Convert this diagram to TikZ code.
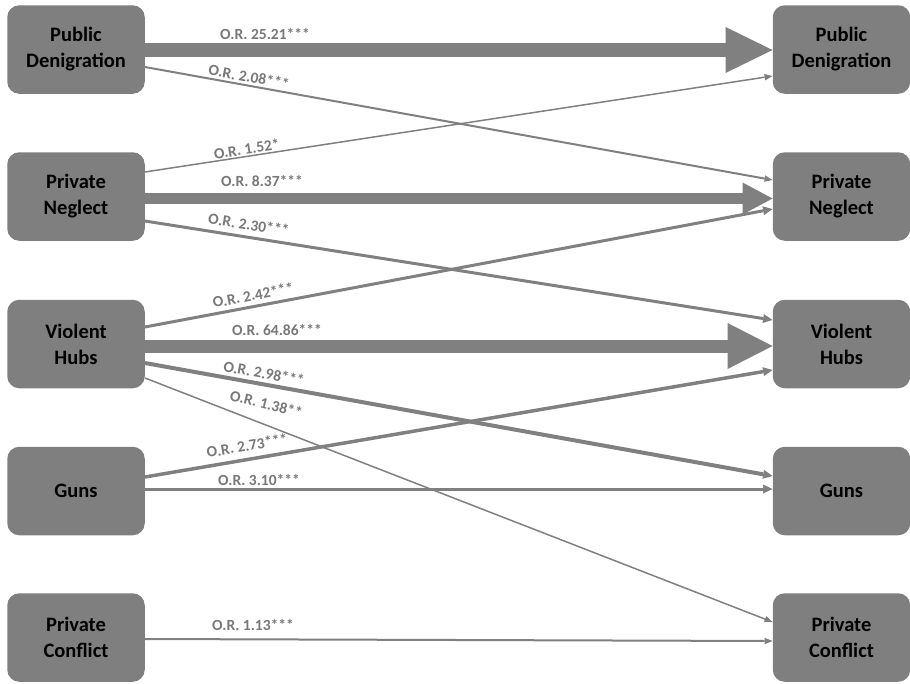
\documentclass[tikz,border=0pt]{standalone}
\usepackage{fontspec}
\setmainfont{Carlito}
\usetikzlibrary{arrows.meta,calc}
\definecolor{boxgray}{RGB}{127,127,127}
\definecolor{linkgray}{RGB}{128,128,128}
\definecolor{labelgray}{RGB}{120,120,120}

\begin{document}
\begin{tikzpicture}[x=1pt,y=-1pt,
  factor/.style={fill=boxgray, rounded corners=12pt, minimum width=137.5pt,
    minimum height=88.5pt, inner sep=0pt, align=center, text=black,
    font=\bfseries\fontsize{20.5}{26}\selectfont},
  link/.style={draw=linkgray, line width=#1},
  smalltip/.style={-{Triangle[length=8pt,width=6.5pt,line width=0pt]}},
  midtip/.style={-{Triangle[length=9.5pt,width=9pt,line width=0pt]}},
  ortext/.style={text=labelgray, inner sep=0pt, anchor=base,
    font=\bfseries\fontsize{15.5}{18}\selectfont}]
\useasboundingbox (0,0) rectangle (910,683);

% factor boxes, left column (origin) and right column (destination)
\node[factor] (pdL) at (76,49.5)  {Public\\Denigration};
\node[factor] (pnL) at (76,196.5) {Private\\Neglect};
\node[factor] (vhL) at (76,344)   {Violent\\Hubs};
\node[factor] (guL) at (76,491)   {Guns};
\node[factor] (pcL) at (76,637.5) {Private\\Conflict};

\node[factor] (pdR) at (841.5,49.5)  {Public\\Denigration};
\node[factor] (pnR) at (841.5,196.5) {Private\\Neglect};
\node[factor] (vhR) at (841.5,344)   {Violent\\Hubs};
\node[factor] (guR) at (841.5,491)   {Guns};
\node[factor] (pcR) at (841.5,637.5) {Private\\Conflict};

% strong persistence paths
\draw[link=14pt, -{Triangle[length=47pt,width=46pt,line width=0pt]}]
  ($(pdL.east)+(0,0.5)$) -- ($(pdR.west)+(0,0.5)$);
\draw[link=11pt, -{Triangle[length=30pt,width=32pt,line width=0pt]}]
  ($(pnL.east)+(0,2)$) -- ($(pnR.west)+(0,2)$);
\draw[link=13pt, -{Triangle[length=45pt,width=46pt,line width=0pt]}]
  ($(vhL.east)+(0,2)$) -- ($(vhR.west)+(0,2)$);

% cross paths
\draw[link=2pt, smalltip]   ($(pdL.east)+(0,17.5)$)  -- ($(pnR.west)+(0,-16.5)$);
\draw[link=1.5pt, smalltip] ($(pnL.east)+(0,-24.5)$) -- ($(pdR.west)+(0,26.5)$);
\draw[link=3pt, midtip]     ($(pnL.east)+(0,24.5)$)  -- ($(vhR.west)+(0,-24)$);
\draw[link=3pt, midtip]     ($(vhL.east)+(0,-17)$)   -- ($(pnR.west)+(0,12.5)$);
\draw[link=4pt, midtip]     ($(vhL.east)+(0,19)$)    -- ($(guR.west)+(0,-15)$);
\draw[link=1.5pt, smalltip] ($(vhL.east)+(0,34)$)    -- ($(pcR.west)+(0,-15.5)$);
\draw[link=3.5pt, midtip]   ($(guL.east)+(0,-14)$)   -- ($(vhR.west)+(0,26)$);
\draw[link=3pt, midtip]     ($(guL.east)+(0,-2)$)    -- ($(guR.west)+(0,-2)$);
\draw[link=2pt, smalltip]   ($(pcL.east)+(0,1.5)$)   -- ($(pcR.west)+(0,3.5)$);

% odds ratios
\node[ortext] (or1)  at (265,39.5)               {O.R. 25.21***};
\node[ortext, rotate=-10.2] (or2)  at (248,82.2)  {O.R. 2.08***};
\node[ortext, rotate=8.7]   (or3)  at (247.5,154.2) {O.R. 1.52*};
\node[ortext] (or4)  at (262,186)                {O.R. 8.37***};
\node[ortext, rotate=-8.9]  (or5)  at (248,229.8) {O.R. 2.30***};
\node[ortext, rotate=10.7]  (or6)  at (254,300.4) {O.R. 2.42***};
\node[ortext] (or7)  at (277,335)                {O.R. 64.86***};
\node[ortext, rotate=-10.2] (or8)  at (263,378.5) {O.R. 2.98***};
\node[ortext, rotate=-14]   (or9)  at (265,409)   {O.R. 1.38**};
\node[ortext, rotate=9.7]   (or10) at (248,450.9) {O.R. 2.73***};
\node[ortext] (or11) at (259,485)                {O.R. 3.10***};
\node[ortext] (or12) at (253,630)                {O.R. 1.13***};
\end{tikzpicture}
\end{document}
